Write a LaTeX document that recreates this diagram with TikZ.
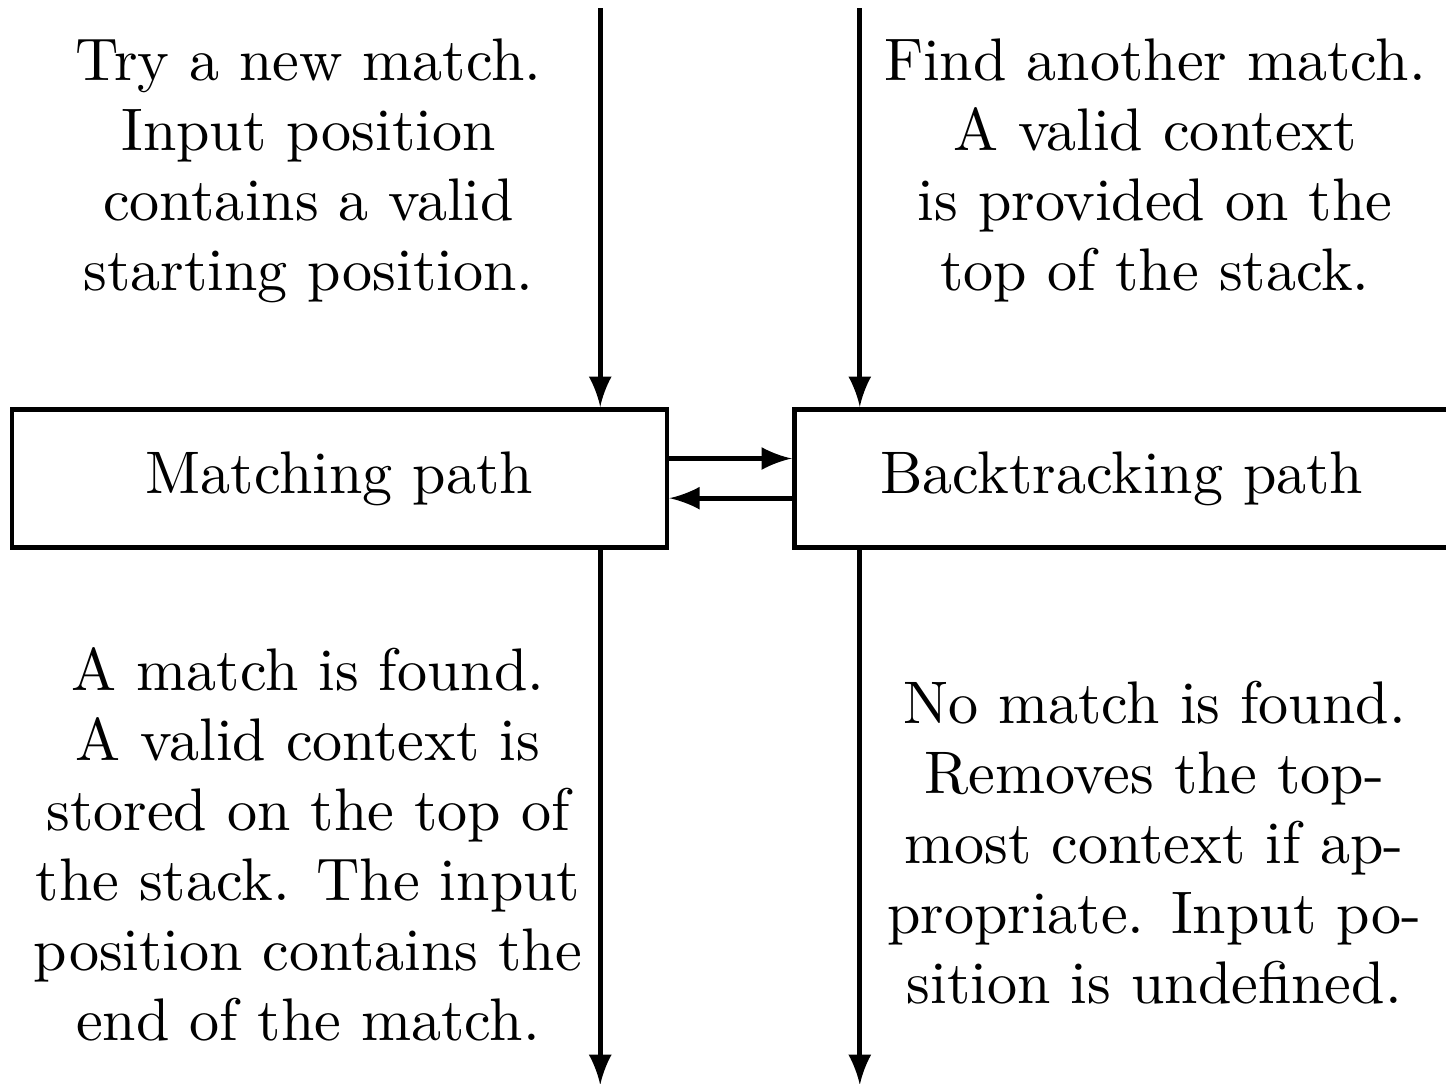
\documentclass[tikz,border=0pt]{standalone}
\begin{document}
\begin{tikzpicture}[every node/.style={font=\fontsize{10.3pt}{12pt}\selectfont},
  pathbox/.style={draw,thick,minimum width=112.3pt,minimum height=23.7pt},
  note/.style={align=center},
  flow/.style={thick,-latex}]
  \useasboundingbox (0,0) rectangle (247.9pt,-185.7pt);
  \node[pathbox] (match) at (58.2pt,-82pt) {Matching path};
  \node[pathbox] (back) at (192.3pt,-82pt) {Backtracking path};
  \coordinate (matchin) at (102.9pt,-1.4pt);
  \coordinate (backin) at (147.4pt,-1.4pt);
  \coordinate (matchout) at (102.9pt,-186pt);
  \coordinate (backout) at (147.4pt,-186pt);
  \draw[flow] (matchin) -- (matchin |- match.north);
  \draw[flow] (backin) -- (backin |- back.north);
  \draw[flow] (matchin |- match.south) -- (matchout);
  \draw[flow] (backin |- back.south) -- (backout);
  \draw[flow] ([yshift=3.4pt]match.east) -- ([yshift=3.4pt]back.west);
  \draw[flow] ([yshift=-3.4pt]back.west) -- ([yshift=-3.4pt]match.east);
  \node[note] (newmatch) at (52.9pt,-29.3pt) {Try a new match.\\ Input position\\ contains a valid\\ starting position.};
  \node[note] (another) at (198pt,-29.3pt) {Find another match.\\ A valid context\\ is provided on the\\ top of the stack.};
  \node[note] (found) at (52.8pt,-144.7pt) {A match is found.\\ A valid context is\\ stored on the top of\\ the stack. The input\\ position contains the\\ end of the match.};
  \node[note] (notfound) at (197.9pt,-144.4pt) {No match is found.\\ Removes the top-\\ most context if ap-\\ propriate. Input po-\\ sition is undefined.};
\end{tikzpicture}
\end{document}
